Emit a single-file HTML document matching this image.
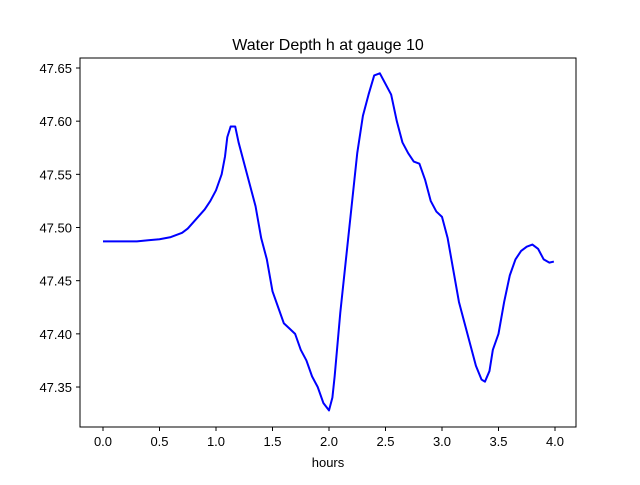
<!DOCTYPE html>
<html><head><meta charset="utf-8"><style>
body{margin:0;background:#fff;}
svg{font-family:"Liberation Sans","DejaVu Sans",sans-serif;}
</style></head><body>
<svg id="chart" width="640" height="480" xmlns="http://www.w3.org/2000/svg">
<rect width="640" height="480" fill="#fff"/>
<text x="328" y="50" font-size="16" text-anchor="middle">Water Depth h at gauge 10</text>
<g id="plot"></g>
<rect x="80" y="58" width="496" height="369" fill="none" stroke="#000" stroke-width="1"/>
<text x="328" y="467" font-size="13" text-anchor="middle">hours</text>
</svg>
<script>
const hours=[0,0.3,0.4,0.5,0.6,0.65,0.7,0.75,0.8,0.85,0.9,0.95,1.0,1.05,1.08,1.1,1.13,1.17,1.2,1.25,1.3,1.35,1.4,1.45,1.5,1.55,1.6,1.65,1.7,1.75,1.8,1.85,1.9,1.95,2.0,2.03,2.05,2.1,2.15,2.2,2.25,2.3,2.35,2.4,2.45,2.5,2.55,2.6,2.65,2.7,2.75,2.8,2.85,2.9,2.95,3.0,3.05,3.1,3.15,3.2,3.25,3.3,3.35,3.38,3.42,3.45,3.5,3.55,3.6,3.65,3.7,3.75,3.8,3.85,3.9,3.95,3.99];
const depth=[47.487,47.487,47.488,47.489,47.491,47.493,47.495,47.499,47.505,47.511,47.517,47.525,47.535,47.55,47.567,47.585,47.595,47.595,47.58,47.56,47.54,47.52,47.49,47.47,47.44,47.425,47.41,47.405,47.40,47.385,47.375,47.36,47.35,47.335,47.328,47.34,47.36,47.42,47.47,47.52,47.57,47.605,47.625,47.643,47.645,47.635,47.625,47.60,47.58,47.57,47.562,47.56,47.545,47.525,47.515,47.51,47.49,47.46,47.43,47.41,47.39,47.37,47.357,47.355,47.365,47.385,47.40,47.43,47.455,47.47,47.478,47.482,47.484,47.48,47.47,47.467,47.468];
const xTicks=[0,0.5,1,1.5,2,2.5,3,3.5,4];
const xTickLabels=["0.0","0.5","1.0","1.5","2.0","2.5","3.0","3.5","4.0"];
const yTicks=[47.35,47.40,47.45,47.50,47.55,47.60,47.65];
const yTickLabels=["47.35","47.40","47.45","47.50","47.55","47.60","47.65"];
const NS="http://www.w3.org/2000/svg";
const X=v=>103+v*113;
const Y=v=>68+(47.65-v)/0.05*53.17;
const g=document.getElementById('plot');
function mk(t,a){const e=document.createElementNS(NS,t);for(const k in a)e.setAttribute(k,a[k]);g.appendChild(e);return e;}
xTicks.forEach((v,i)=>{
 const l=mk('line',{x1:X(v),x2:X(v),y1:427,y2:431,stroke:'#000'});
 
 
 const t=mk('text',{x:X(v),y:446,'font-size':13,'text-anchor':'middle'});
 t.textContent=xTickLabels[i];
 
 
});
yTicks.forEach((v,i)=>{
 const l=mk('line',{x1:76,x2:80,y1:Y(v),y2:Y(v),stroke:'#000'});
 
 
 const t=mk('text',{x:72,y:Y(v)+5,'font-size':13,'text-anchor':'end'});
 t.textContent=yTickLabels[i];
 
 
});
const p=mk('polyline',{points:hours.map((h,i)=>X(h)+','+Y(depth[i])).join(' '),fill:'none',stroke:'#0000ff','stroke-width':2,'stroke-linejoin':'round'});


</script>
</body></html>
